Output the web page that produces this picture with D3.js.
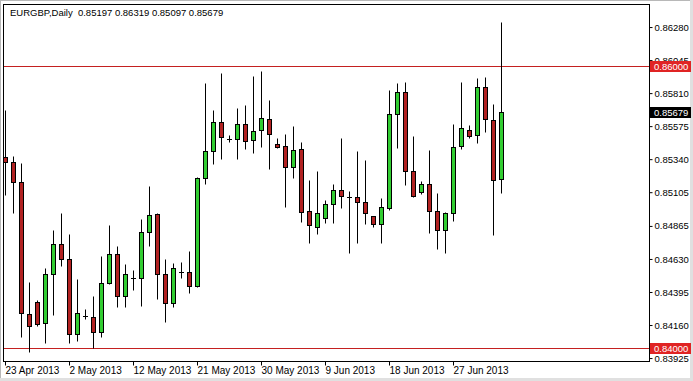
<!DOCTYPE html>
<html lang="en">
<head>
<meta charset="UTF-8">
<script src="https://d3js.org/d3.v7.min.js"></script>
<title>EURGBP Daily</title>
<style>
  html, body { margin: 0; padding: 0; background: #fff; overflow: hidden; }
  svg { display: block; }
  text { font-family: "Liberation Sans", Arial, sans-serif; fill: #000; }
  .axis text { font-size: 10px; }
  .yaxis text { font-size: 9.5px; }
  .title { font-size: 9.5px; }
</style>
</head>
<body>
<script>
// session dates (broker shows Sunday bars)
const dates = [
  "2013-04-23","2013-04-24","2013-04-25","2013-04-26","2013-04-28","2013-04-29","2013-04-30",
  "2013-05-01","2013-05-02","2013-05-03","2013-05-05","2013-05-06","2013-05-07","2013-05-08",
  "2013-05-09","2013-05-10","2013-05-12","2013-05-13","2013-05-14","2013-05-15","2013-05-16",
  "2013-05-17","2013-05-19","2013-05-20","2013-05-21","2013-05-22","2013-05-23","2013-05-24",
  "2013-05-26","2013-05-27","2013-05-28","2013-05-29","2013-05-30","2013-05-31","2013-06-02",
  "2013-06-03","2013-06-04","2013-06-05","2013-06-06","2013-06-07","2013-06-09","2013-06-10",
  "2013-06-11","2013-06-12","2013-06-13","2013-06-14","2013-06-16","2013-06-17","2013-06-18",
  "2013-06-19","2013-06-20","2013-06-21","2013-06-23","2013-06-24","2013-06-25","2013-06-26",
  "2013-06-27","2013-06-28","2013-06-30","2013-07-01","2013-07-02","2013-07-03","2013-07-04"
];

const opens = [
  0.85355,0.85317,0.85175,0.84238,0.84321,0.84172,0.84521,0.84734,0.84629,0.84094,
  0.84226,0.84219,0.84112,0.84461,0.84663,0.84366,0.84492,0.84492,0.84824,0.84950,
  0.84521,0.84314,0.84535,0.84535,0.84439,0.85204,0.85398,0.85602,0.85481,0.85481,
  0.85588,0.85474,0.85545,0.85623,0.85445,0.85433,0.85286,0.85410,0.84971,0.84859,
  0.84919,0.85018,0.85120,0.85073,0.85068,0.85037,0.84933,0.84876,0.84994,0.85659,
  0.85815,0.85255,0.85104,0.85161,0.84973,0.84836,0.84954,0.85433,0.85547,0.85512,
  0.85851,0.85618,0.85197
];
const highs = [
  0.85689,0.85362,0.85312,0.84466,0.84338,0.84567,0.84836,0.84959,0.84805,0.84487,
  0.84274,0.84368,0.84653,0.84871,0.84722,0.84594,0.84551,0.84912,0.85149,0.84957,
  0.84627,0.84599,0.84606,0.84686,0.85215,0.85879,0.85690,0.85951,0.85512,0.85706,
  0.85725,0.85931,0.85967,0.85761,0.85488,0.85519,0.85576,0.85464,0.85191,0.85255,
  0.85049,0.85163,0.85488,0.85113,0.85400,0.85334,0.84935,0.85066,0.85832,0.85879,
  0.85887,0.85504,0.85184,0.85405,0.85097,0.84966,0.85590,0.85891,0.85583,0.85919,
  0.85922,0.85732,0.86319
];
const lows = [
  0.85085,0.84957,0.84077,0.83968,0.84153,0.84030,0.84231,0.84582,0.84030,0.84046,
  0.84200,0.83994,0.84072,0.84449,0.84290,0.84290,0.84409,0.84297,0.84724,0.84343,
  0.84183,0.84286,0.84492,0.84385,0.84432,0.85163,0.85303,0.85339,0.85464,0.85339,
  0.85410,0.85386,0.85428,0.85268,0.85417,0.85001,0.85204,0.84895,0.84745,0.84805,
  0.84883,0.84883,0.84990,0.84670,0.84741,0.84878,0.84859,0.84741,0.84978,0.85417,
  0.85156,0.85073,0.85090,0.84812,0.84698,0.84670,0.84902,0.85410,0.85492,0.85457,
  0.85531,0.84800,0.85097
];
const closes = [
  0.85320,0.85175,0.84243,0.84153,0.84167,0.84521,0.84734,0.84627,0.84094,0.84243,
  0.84226,0.84112,0.84461,0.84663,0.84366,0.84521,0.84492,0.84824,0.84942,0.84521,
  0.84314,0.84563,0.84535,0.84439,0.85204,0.85398,0.85602,0.85495,0.85481,0.85588,
  0.85469,0.85542,0.85630,0.85517,0.85428,0.85286,0.85405,0.84966,0.84871,0.84954,
  0.85021,0.85120,0.85078,0.85073,0.85037,0.84954,0.84876,0.84997,0.85659,0.85815,
  0.85255,0.85075,0.85161,0.84973,0.84836,0.84954,0.85428,0.85559,0.85507,0.85851,
  0.85623,0.85191,0.85679
];

const priceTicks = [0.86280,0.86045,0.85810,0.85575,0.85340,0.85105,0.84865,0.84630,0.84395,0.84160,0.83925];
const dateTickLabels = ["23 Apr 2013","2 May 2013","12 May 2013","21 May 2013","30 May 2013","9 Jun 2013","18 Jun 2013","27 Jun 2013"];
const levelLines = [0.86000, 0.84000];
const priceRange = [0.83904, 0.86444];

const W = 693, H = 381;
const plot = { left: 3, top: 4, right: 649, bottom: 361 };

const parse = d3.timeParse("%Y-%m-%d");
const fmtDate = d3.timeFormat("%-d %b %Y");
const fmtPrice = d3.format(".5f");

const bars = dates.map((d, i) => ({
  date: parse(d), key: d,
  o: opens[i], h: highs[i], l: lows[i], c: closes[i]
}));

const svg = d3.select("body").append("svg")
  .attr("width", W).attr("height", H);

// window frame
svg.append("rect").attr("x", 0).attr("y", 0).attr("width", W).attr("height", H).attr("fill", "#fff");
svg.append("rect").attr("x", 0.5).attr("y", 0.5).attr("width", W - 1).attr("height", H - 1)
  .attr("fill", "none").attr("stroke", "#b8b8b8");
svg.append("rect").attr("x", 690).attr("y", 0).attr("width", 3).attr("height", H).attr("fill", "#e0e0e0");
svg.append("rect").attr("x", 0).attr("y", 378).attr("width", W).attr("height", 3).attr("fill", "#e0e0e0");

// 8px per bar, 5px bodies
const x = d3.scaleBand()
  .domain(bars.map(d => d.key))
  .range([1.5, 505.5])
  .paddingInner(0.375)
  .paddingOuter(0.1875);

const y = d3.scaleLinear()
  .domain(priceRange)
  .range([plot.bottom, plot.top]);

const py = v => Math.round(y(v)) + 0.5;

svg.append("clipPath").attr("id", "clip")
  .append("rect")
  .attr("x", plot.left + 1).attr("y", plot.top + 1)
  .attr("width", plot.right - plot.left - 1).attr("height", plot.bottom - plot.top - 1);

const g = svg.append("g").attr("clip-path", "url(#clip)");

// level lines
g.selectAll(".level")
  .data(levelLines)
  .join("line")
  .attr("class", "level")
  .attr("x1", plot.left).attr("x2", plot.right)
  .attr("y1", d => py(d)).attr("y2", d => py(d))
  .attr("stroke", "#c42020").attr("stroke-width", 1);

const candle = g.selectAll(".candle")
  .data(bars)
  .join("g")
  .attr("class", "candle");

candle.append("line")
  .attr("x1", d => Math.round(x(d.key)) + 2.5)
  .attr("x2", d => Math.round(x(d.key)) + 2.5)
  .attr("y1", d => py(d.h))
  .attr("y2", d => py(d.l))
  .attr("stroke", "#000");

candle.each(function (d) {
  const sel = d3.select(this);
  const x0 = Math.round(x(d.key));
  const top = py(Math.max(d.o, d.c));
  const bot = py(Math.min(d.o, d.c));
  if (bot - top < 1) {
    sel.append("line")
      .attr("x1", x0).attr("x2", x0 + 5)
      .attr("y1", top).attr("y2", top)
      .attr("stroke", "#000");
  } else {
    sel.append("rect")
      .attr("x", x0 + 0.5).attr("y", top)
      .attr("width", x.bandwidth() - 1).attr("height", bot - top)
      .attr("fill", d.c > d.o ? "#32cd32" : "#b22222")
      .attr("stroke", "#000");
  }
});

// plot frame
svg.append("rect")
  .attr("x", plot.left + 0.5).attr("y", plot.top + 0.5)
  .attr("width", plot.right - plot.left).attr("height", plot.bottom - plot.top)
  .attr("fill", "none").attr("stroke", "#000");

// right price axis
const yAxis = svg.append("g")
  .attr("class", "axis yaxis")
  .attr("transform", `translate(${plot.right + 0.5},0)`)
  .call(d3.axisRight(y).tickValues(priceTicks).tickSize(3).tickPadding(2).tickFormat(fmtPrice));
yAxis.select(".domain").remove();
yAxis.selectAll(".tick line").attr("stroke", "#000");

// bottom date axis
const tickKeys = bars.filter(d => dateTickLabels.includes(fmtDate(d.date))).map(d => d.key);
const xAxis = svg.append("g")
  .attr("class", "axis")
  .attr("transform", `translate(0,${plot.bottom + 0.5})`)
  .call(d3.axisBottom(x).tickValues(tickKeys).tickSize(4)
    .tickFormat(k => fmtDate(parse(k))));
xAxis.select(".domain").remove();
xAxis.selectAll(".tick").attr("transform", d => `translate(${Math.round(x(d)) + 2.5},0)`);
xAxis.selectAll(".tick line").attr("stroke", "#000");
xAxis.selectAll(".tick text")
  .attr("text-anchor", "start")
  .attr("x", 0)
  .attr("y", 5)
  .attr("dy", "0.71em");

// price tags on the right (drawn over the axis labels, as in the terminal)
const tags = levelLines.map(v => ({ v, fill: "#e02424" }))
  .concat([{ v: closes[closes.length - 1], fill: "#000" }]);

const tag = svg.append("g").selectAll("g")
  .data(tags)
  .join("g")
  .attr("transform", d => `translate(${plot.right + 1},${Math.round(y(d.v))})`);

tag.append("rect")
  .attr("x", 0).attr("y", -5)
  .attr("width", 41).attr("height", 11)
  .attr("fill", d => d.fill);

tag.append("text")
  .attr("x", 4).attr("y", 0.5)
  .attr("dy", "0.35em")
  .style("font-size", "9.5px")
  .style("fill", "#fff")
  .text(d => fmtPrice(d.v));

// header
const last = bars[bars.length - 1];
svg.append("text")
  .attr("class", "title")
  .attr("x", 10).attr("y", 16)
  .text(`EURGBP,Daily  ${[last.o, last.h, last.l, last.c].map(fmtPrice).join(" ")}`)
  .attr("xml:space", "preserve")
  .style("white-space", "pre");
</script>
</body>
</html>
